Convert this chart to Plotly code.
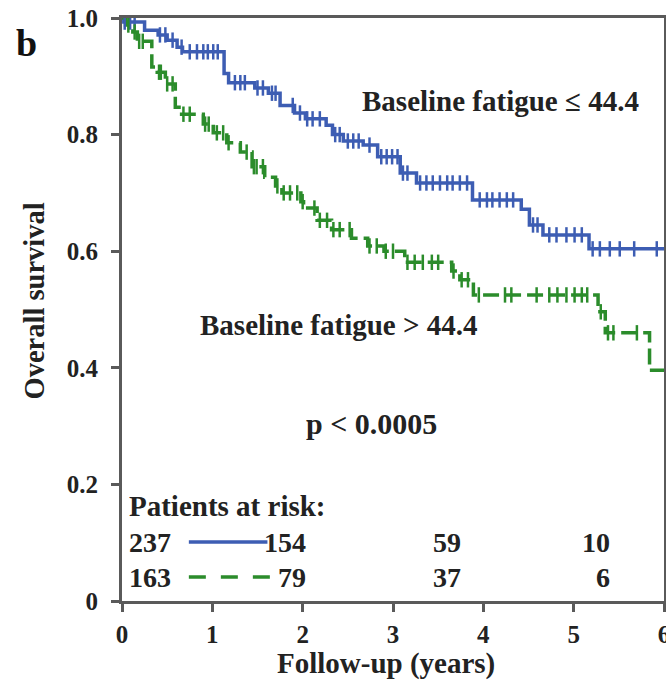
import numpy as np
import plotly.graph_objects as go

# ---- Data ----
# Baseline fatigue <= 44.4 (blue): step times (years) and survival after each step
low_t = [0.00, 0.02, 0.25, 0.40, 0.50, 0.61, 0.67, 1.13, 1.18, 1.47, 1.62, 1.75, 1.91,
         2.03, 2.26, 2.33, 2.45, 2.67, 2.83, 3.08, 3.26, 3.88, 4.42, 4.51, 4.66, 5.17]
low_s = [1.000, 0.993, 0.979, 0.971, 0.962, 0.950, 0.942, 0.905, 0.889, 0.880, 0.871, 0.850, 0.837,
         0.827, 0.816, 0.800, 0.789, 0.782, 0.762, 0.734, 0.717, 0.688, 0.672, 0.645, 0.628, 0.604]
low_cens = [0.03, 0.09, 0.14, 0.42, 0.48, 0.56, 0.66, 0.75, 0.83, 0.90, 0.95, 1.01, 1.06,
            1.25, 1.31, 1.36, 1.50, 1.56, 1.66, 1.70, 1.89, 1.97, 2.05, 2.11, 2.19, 2.36,
            2.41, 2.50, 2.56, 2.62, 2.74, 2.87, 2.93, 2.99, 3.05, 3.11, 3.16, 3.30, 3.37,
            3.44, 3.52, 3.60, 3.66, 3.74, 3.82, 3.96, 4.04, 4.10, 4.18, 4.26, 4.33, 4.55,
            4.60, 4.73, 4.81, 4.92, 5.01, 5.09, 5.21, 5.29, 5.40, 5.51, 5.67, 5.92]

# Baseline fatigue > 44.4 (green)
high_t = [0.00, 0.04, 0.12, 0.17, 0.33, 0.39, 0.48, 0.59, 0.66, 0.90, 1.01, 1.16, 1.31,
          1.44, 1.58, 1.70, 1.77, 1.98, 2.01, 2.16, 2.32, 2.54, 2.72, 2.90, 3.13, 3.65,
          3.74, 3.89, 5.27, 5.35, 5.84]
high_s = [1.000, 0.988, 0.976, 0.960, 0.916, 0.907, 0.887, 0.847, 0.835, 0.818, 0.803, 0.786, 0.770,
          0.745, 0.727, 0.712, 0.700, 0.685, 0.674, 0.653, 0.637, 0.622, 0.609, 0.600, 0.581, 0.566,
          0.551, 0.525, 0.496, 0.460, 0.396]
high_cens = [0.07, 0.14, 0.19, 0.23, 0.41, 0.43, 0.50, 0.56, 0.68, 0.75, 0.92, 0.96, 1.05,
             1.12, 1.18, 1.38, 1.46, 1.49, 1.56, 1.72, 1.79, 1.86, 1.94, 2.00, 2.13, 2.19,
             2.27, 2.34, 2.41, 2.52, 2.74, 2.82, 2.92, 3.00, 3.16, 3.24, 3.33, 3.43, 3.50,
             3.67, 3.76, 3.83, 3.95, 4.24, 4.31, 4.59, 4.73, 4.82, 4.92, 5.01, 5.09, 5.15,
             5.30, 5.38, 5.44, 5.70]

max_t = 6.0

risk_low = [237, 154, 59, 10]
risk_high = [163, 79, 37, 6]

x_ticks = [0, 1, 2, 3, 4, 5, 6]
y_ticks = [0, 0.2, 0.4, 0.6, 0.8, 1.0]
y_tick_text = ["0", "0.2", "0.4", "0.6", "0.8", "1.0"]

BLUE = "#3d5db3"
GREEN = "#2b8c2b"
TXT = "#222222"
AX = "#5a5a5a"
FONT = "Liberation Serif"


def step_value(times, surv, q):
    idx = np.searchsorted(np.asarray(times), np.asarray(q), side="right") - 1
    return np.asarray(surv)[idx]


fig = go.Figure()

# Curves
fig.add_trace(go.Scatter(x=low_t + [max_t], y=low_s + [low_s[-1]], mode="lines",
                         line=dict(color=BLUE, width=3.5, shape="hv"), showlegend=False))
fig.add_trace(go.Scatter(x=high_t + [max_t], y=high_s + [high_s[-1]], mode="lines",
                         line=dict(color=GREEN, width=3.5, shape="hv", dash="16px,6px"),
                         showlegend=False))
# Censor marks
fig.add_trace(go.Scatter(x=low_cens, y=step_value(low_t, low_s, low_cens), mode="markers",
                         marker=dict(symbol="line-ns", size=11, line=dict(color=BLUE, width=2.5)),
                         showlegend=False))
fig.add_trace(go.Scatter(x=high_cens, y=step_value(high_t, high_s, high_cens), mode="markers",
                         marker=dict(symbol="line-ns", size=11, line=dict(color=GREEN, width=2.5)),
                         showlegend=False))

ann = []
bold = dict(family=FONT, color=TXT)
ann.append(dict(x=4.19, y=0.857, xref="x", yref="y", text="<b>Baseline fatigue ≤ 44.4</b>",
                showarrow=False, font=dict(size=29, **bold), xanchor="center", yanchor="middle"))
ann.append(dict(x=2.40, y=0.474, xref="x", yref="y", text="<b>Baseline fatigue > 44.4</b>",
                showarrow=False, font=dict(size=29, **bold), xanchor="center", yanchor="middle"))
ann.append(dict(x=2.76, y=0.304, xref="x", yref="y", text="<b>p < 0.0005</b>",
                showarrow=False, font=dict(size=30, **bold), xanchor="center", yanchor="middle"))
ann.append(dict(x=0.055, y=0.163, xref="x", yref="y", text="<b>Patients at risk:</b>",
                showarrow=False, font=dict(size=29, **bold), xanchor="left", yanchor="middle"))

col_x = [0.055, 2.06, 3.77, 5.42]
for row_vals, yv in ((risk_low, 0.101), (risk_high, 0.041)):
    for i, (v, cx) in enumerate(zip(row_vals, col_x)):
        ann.append(dict(x=cx, y=yv, xref="x", yref="y", text=f"<b>{v}</b>", showarrow=False,
                        font=dict(size=28, **bold), xanchor="left" if i == 0 else "right",
                        yanchor="middle"))

# Axis titles and panel letter
ann.append(dict(x=-0.161, y=0.515, xref="paper", yref="paper", text="<b>Overall survival</b>",
                textangle=-90, showarrow=False, font=dict(size=28.5, **bold),
                xanchor="center", yanchor="middle"))
ann.append(dict(x=0.487, y=-0.108, xref="paper", yref="paper", text="<b>Follow-up (years)</b>",
                showarrow=False, font=dict(size=29, **bold), xanchor="center", yanchor="middle"))
ann.append(dict(x=-0.177, y=0.957, xref="paper", yref="paper", text="<b>b</b>",
                showarrow=False, font=dict(size=38, family=FONT, color="#111111"),
                xanchor="center", yanchor="middle"))

shapes = [
    dict(type="line", xref="x", yref="y", x0=0.74, x1=1.61, y0=0.101, y1=0.101,
         line=dict(color=BLUE, width=3.5)),
    dict(type="line", xref="x", yref="y", x0=0.74, x1=1.65, y0=0.041, y1=0.041,
         line=dict(color=GREEN, width=3.5, dash="17px,15px")),
]

fig.update_layout(
    width=666, height=684,
    margin=dict(l=122, r=2, t=18, b=83, autoexpand=False),
    paper_bgcolor="white", plot_bgcolor="white",
    annotations=ann, shapes=shapes,
    xaxis=dict(range=[0, max_t], tickvals=x_ticks, ticktext=[f"<b>{v}</b>" for v in x_ticks],
               showgrid=False, zeroline=False, showline=True, mirror=True, automargin=False,
               linecolor=AX, linewidth=3, ticks="outside", ticklen=8, tickwidth=3,
               tickcolor=AX, tickfont=dict(family=FONT, size=25, color=TXT),
               ticklabelstandoff=1, ticklabeloverflow="allow"),
    yaxis=dict(range=[0, 1.0], tickvals=y_ticks, ticktext=[f"<b>{t}</b>" for t in y_tick_text],
               showgrid=False, zeroline=False, showline=True, mirror=True, automargin=False,
               linecolor=AX, linewidth=3, ticks="outside", ticklen=8, tickwidth=3,
               tickcolor=AX, tickfont=dict(family=FONT, size=25, color=TXT),
               ticklabelstandoff=8, ticklabeloverflow="allow"),
)

fig.write_html(
    "out.html",
    config={"displayModeBar": False},
    post_script="document.body.style.margin='0';document.body.style.overflow='hidden';",
)
